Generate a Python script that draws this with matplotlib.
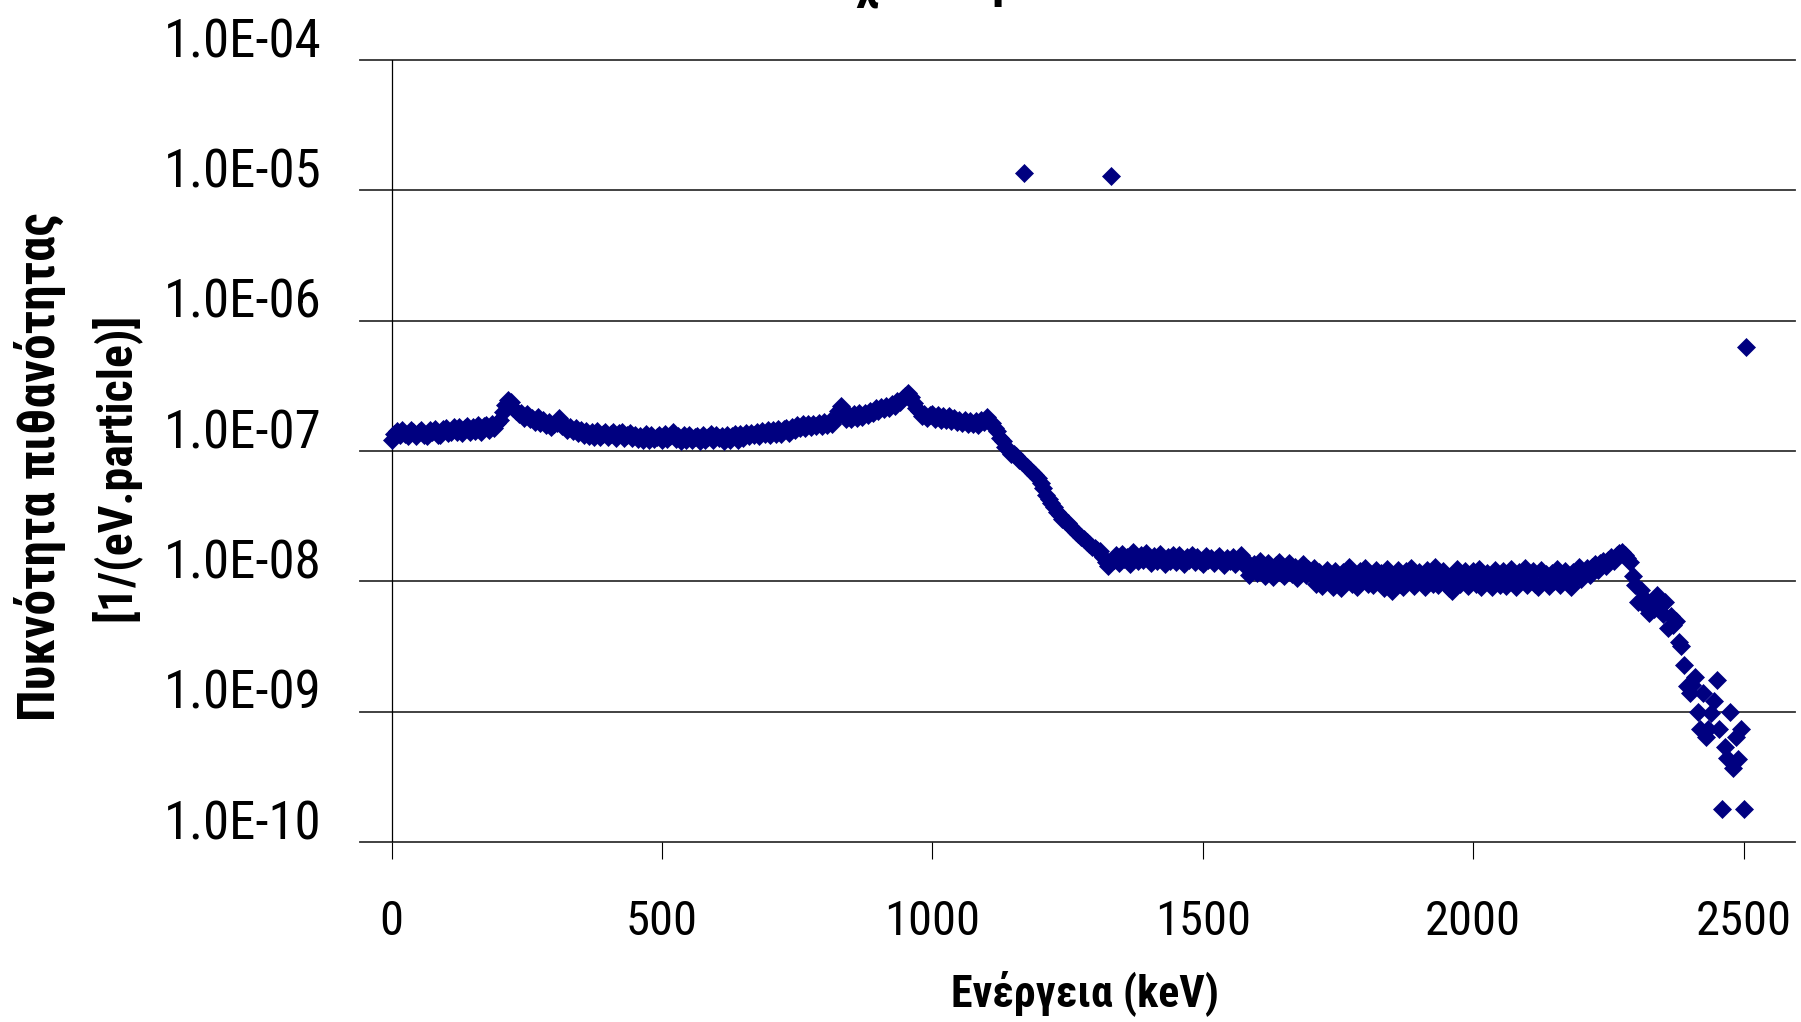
import numpy as np
import matplotlib
matplotlib.use("Agg")
import matplotlib.pyplot as plt
from matplotlib.markers import MarkerStyle
from matplotlib.transforms import offset_copy

# energy bins (keV), 5 keV wide
energy_kev = np.arange(0, 2510, 5)

# probability density per bin, in units of 1e-9 1/(eV.particle); one row = 50 keV
density_e9 = [
    121, 134, 143, 132, 146, 136, 131, 144, 139, 130,
    141, 146, 133, 131, 145, 140, 148, 133, 132, 147,
    150, 137, 141, 152, 140, 154, 138, 151, 156, 141,
    153, 143, 158, 141, 155, 159, 144, 161, 149, 163,
    172, 198, 225, 246, 238, 212, 203, 191, 196, 180,
    191, 175, 180, 166, 181, 165, 173, 159, 167, 153,
    160, 164, 180, 155, 157, 145, 152, 143, 150, 137,
    145, 132, 143, 130, 141, 128, 142, 129, 136, 140,
    128, 136, 139, 126, 137, 140, 125, 133, 138, 126,
    133, 124, 131, 122, 134, 121, 133, 123, 129, 132,
    121, 134, 123, 130, 141, 124, 131, 120, 132, 121,
    133, 122, 129, 131, 120, 133, 122, 128, 134, 121,
    132, 125, 131, 120, 133, 122, 130, 134, 122, 136,
    125, 138, 130, 137, 132, 140, 131, 143, 134, 144,
    132, 145, 134, 147, 136, 148, 151, 137, 152, 145,
    158, 149, 160, 151, 162, 153, 160, 155, 165, 156,
    167, 158, 170, 162, 176, 203, 222, 191, 176, 190,
    177, 192, 178, 194, 181, 196, 189, 204, 197, 212,
    203, 218, 209, 220, 212, 228, 220, 240, 236, 255,
    262, 278, 258, 232, 212, 203, 186, 192, 178, 188,
    191, 175, 189, 173, 187, 172, 186, 170, 180, 166,
    174, 163, 172, 160, 171, 161, 170, 159, 173, 166,
    182, 171, 165, 150, 142, 126, 119, 108, 104, 95,
    95, 91, 86, 82, 13700, 76, 72, 68, 65, 62,
    57, 52, 46, 43, 40, 37, 34, 32, 30, 29,
    28, 26.5, 25, 24, 23, 22, 21, 20, 19.5, 18.5,
    18, 17.5, 17, 15.5, 14, 13.2, 12900, 14.5, 15.8, 13.9,
    16.2, 14.8, 15.5, 13.6, 16.8, 15.1, 14.2, 15.9, 14.6, 16.5,
    15.2, 13.8, 15.6, 14.4, 16.1, 14.9, 13.7, 15.4, 14.3, 15.8,
    14.1, 16.0, 14.7, 13.5, 15.3, 14.6, 15.9, 14.0, 15.5, 14.4,
    13.6, 15.7, 14.5, 15.1, 13.9, 14.8, 15.6, 14.2, 13.4, 15.0,
    14.3, 15.4, 13.7, 14.6, 15.8, 13.5, 14.4, 11.2, 12.8, 13.6,
    11.6, 14.2, 12.3, 11.0, 13.8, 12.4, 10.8, 13.3, 14.0, 11.5,
    11.0, 13.0, 13.9, 11.4, 12.8, 10.7, 12.3, 13.6, 11.2, 12.5,
    11.5, 12.6, 9.6, 11.8, 9.2, 10.9, 12.3, 9.8, 9.1, 11.9,
    10.6, 8.9, 11.7, 10.0, 12.8, 9.5, 11.2, 9.0, 12.1, 10.4,
    12.7, 9.6, 11.4, 9.3, 12.2, 10.1, 11.6, 8.9, 12.4, 9.7,
    8.4, 11.0, 12.3, 9.5, 9.0, 11.9, 10.3, 12.6, 9.2, 10.8,
    11.8, 9.9, 9.1, 12.2, 10.6, 9.6, 12.8, 9.3, 10.7, 12.0,
    9.8, 8.9, 8.4, 11.4, 12.4, 9.5, 10.9, 12.1, 9.2, 10.5,
    11.9, 9.6, 12.5, 9.0, 10.3, 11.6, 10.0, 9.0, 12.3, 10.7,
    9.4, 12.0, 9.2, 11.1, 12.5, 9.8, 9.0, 11.8, 10.4, 12.7,
    9.3, 10.9, 12.0, 9.5, 9.1, 12.2, 10.2, 11.3, 9.2, 11.6,
    10.0, 12.4, 9.3, 10.8, 12.1, 9.7, 9.1, 11.8, 11.0, 12.8,
    10.4, 11.5, 12.6, 11.2, 12.8, 13.5, 12.3, 13.8, 14.2, 13.1,
    14.6, 15.3, 14.4, 15.8, 16.4, 16.7, 15.9, 15.0, 14.1, 11.0,
    9.3, 7.0, 8.6, 7.5, 6.4, 5.7, 6.8, 6.1, 7.8, 6.5,
    5.6, 7.0, 4.4, 5.4, 4.6, 5.0, 3.4, 3.2, 2.3, 1.56,
    1.38, 1.6, 1.85, 1.0, 0.74, 1.38, 0.64, 0.74, 0.97, 1.2,
    1.74, 0.74, 0.18, 0.54, 0.44, 1.0, 0.37, 0.64, 0.43, 0.74,
    0.18, 627,
]

x_ticks = [0, 500, 1000, 1500, 2000, 2500]
y_decades = [1e-4, 1e-5, 1e-6, 1e-7, 1e-8, 1e-9, 1e-10]
y_tick_labels = ["1.0E-04", "1.0E-05", "1.0E-06", "1.0E-07", "1.0E-08", "1.0E-09", "1.0E-10"]

plt.rcParams["font.family"] = ["Roboto Condensed", "DejaVu Sans"]

density = np.array(density_e9) * 1e-9

W, H = 1801, 1022
DPI = 100
fig = plt.figure(figsize=(W / DPI, H / DPI), dpi=DPI)
ax = fig.add_axes([359.5 / W, 1 - 842 / H, (1795 - 359.5) / W, (842 - 60) / H])
renderer = fig.canvas.get_renderer()


def fit_width(t, target, vertical=False):
    # scale the font so the text spans `target` pixels; returns the new size
    bb = t.get_window_extent(renderer=renderer)
    span = bb.height if vertical else bb.width
    t.set_fontsize(t.get_fontsize() * target / span)
    return t.get_fontsize()


# diamond marker about 17 px across
mk = MarkerStyle("D")
unit_w = mk.get_path().transformed(mk.get_transform()).get_extents().width
ms = 17.3 * 72 / DPI / unit_w

ax.plot(energy_kev, density, linestyle="none", marker="D", ms=ms,
        color="#000080", mec="#000080", mew=0.5, clip_on=False, zorder=3)

ax.set_yscale("log")
ax.set_ylim(1e-10, 1e-4)
ax.set_xlim(-59.5, 2595)

# horizontal gridlines at each decade
for v in y_decades:
    ax.axhline(v, color="#333333", lw=1.3, zorder=1, clip_on=False)
ax.axvline(0, color="black", lw=0.9, zorder=2)

for s in ax.spines.values():
    s.set_visible(False)

ax.set_yticks([])
ax.minorticks_off()
ylab_tr = offset_copy(ax.get_yaxis_transform(), fig=fig, y=2.0, units="points")
for v, lab in zip(y_decades, y_tick_labels):
    t = ax.text(-0.0264, v, lab, transform=ylab_tr, ha="right", va="baseline", fontsize=38)
    fit_width(t, 158)

ax.set_xticks(x_ticks)
ax.set_xticklabels([])
ax.tick_params(axis="x", direction="out", length=12.2, width=0.8, color="black")
probe = ax.text(0, 0, "2500", fontsize=38, transform=ax.transAxes)
xtick_size = fit_width(probe, 96)
probe.remove()
for xv in x_ticks:
    ax.text(xv, -0.1023, str(xv), transform=ax.get_xaxis_transform(),
            ha="center", va="center", fontsize=xtick_size)

t = fig.text(1085 / W, 1 - 993 / H, "Ενέργεια (keV)", ha="center", va="center",
             fontsize=33, fontweight="bold")
fit_width(t, 268)
t = fig.text(40 / W, 1 - 467 / H, "Πυκνότητα πιθανότητας", ha="center", va="center",
             rotation=90, fontsize=35, fontweight="bold")
fit_width(t, 509, vertical=True)
t = fig.text(115 / W, 1 - 467 / H, "[1/(eV.particle)]", ha="center", va="center",
             rotation=90, fontsize=35, fontweight="bold")
fit_width(t, 308, vertical=True)

# title sits above the visible area; only its lower part shows
fig.text(867 / W, 1 + 3 / H, "χ", ha="center", va="baseline", fontsize=36, fontweight="bold")
fig.text(1004 / W, 1 + 3 / H, "ρ", ha="center", va="baseline", fontsize=36, fontweight="bold")

fig.savefig("out.png", dpi=DPI)
